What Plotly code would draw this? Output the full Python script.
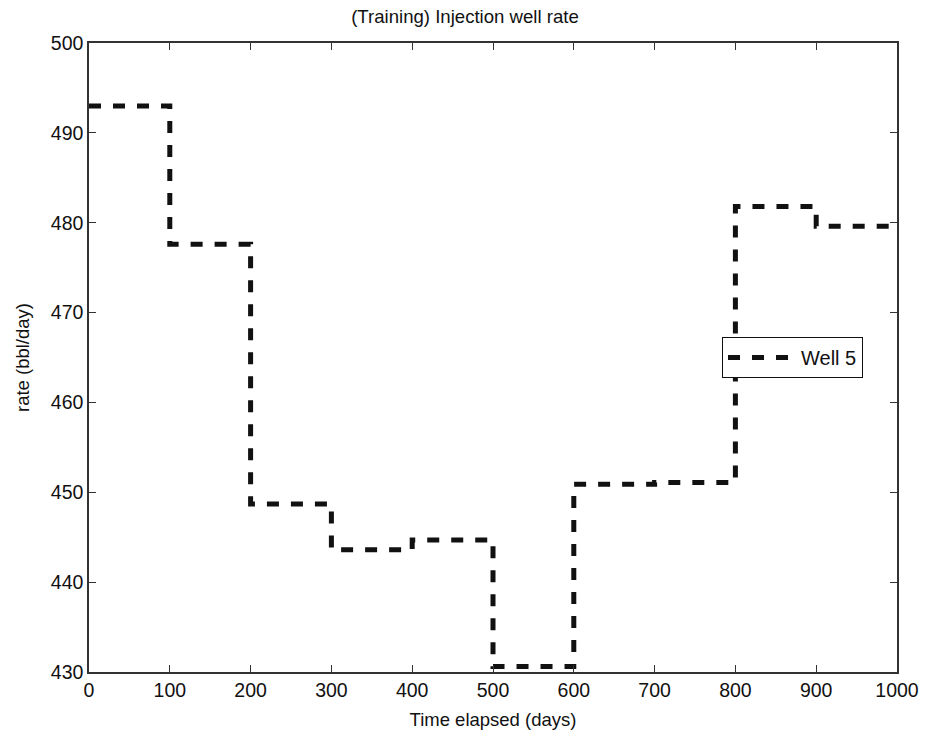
import plotly.graph_objects as go

days = [0, 100, 200, 300, 400, 500, 600, 700, 800, 900, 1000]
rate = [493.0, 477.6, 448.7, 443.6, 444.7, 430.6, 450.9, 451.1, 481.8, 479.6, 479.6]
series_name = "Well 5"

fig = go.Figure()
fig.add_trace(go.Scatter(
    x=days, y=rate, mode="lines", name=series_name,
    line=dict(shape="hv", color="#111111", width=5, dash="12px,12px"),
))

font = "Liberation Sans, Arial, sans-serif"
axis_common = dict(
    showgrid=False, zeroline=False, showline=True, linecolor="#333333", linewidth=1.5,
    mirror="ticks", ticks="inside", ticklen=7, tickcolor="#333333", automargin=False,
    tickfont=dict(size=19.5, color="#111111", family=font),
)
fig.update_layout(
    width=930, height=732,
    margin=dict(l=89, r=33, t=43, b=60),
    paper_bgcolor="white", plot_bgcolor="white",
    title=dict(text="(Training) Injection well rate", x=0.5, xanchor="center",
               y=1 - 16 / 732, yanchor="middle",
               font=dict(size=18.6, color="#111111", family=font)),
    xaxis=dict(range=[0, 1000], tickvals=list(range(0, 1001, 100)),
               title=dict(text="Time elapsed (days)", standoff=13,
                          font=dict(size=18.5, color="#111111", family=font)),
               **axis_common),
    yaxis=dict(range=[430, 500], tickvals=list(range(430, 501, 10)),
               title=dict(text="rate (bbl/day)", standoff=16,
                          font=dict(size=18.5, color="#111111", family=font)),
               **axis_common),
    legend=dict(x=(722 - 89) / 808, y=(672 - 337) / 629, xanchor="left", yanchor="top",
                bgcolor="white", bordercolor="#111111", borderwidth=1,
                font=dict(size=20, color="#111111", family=font),
                itemwidth=68),
    showlegend=True,
)
fig.write_html("out.html")
